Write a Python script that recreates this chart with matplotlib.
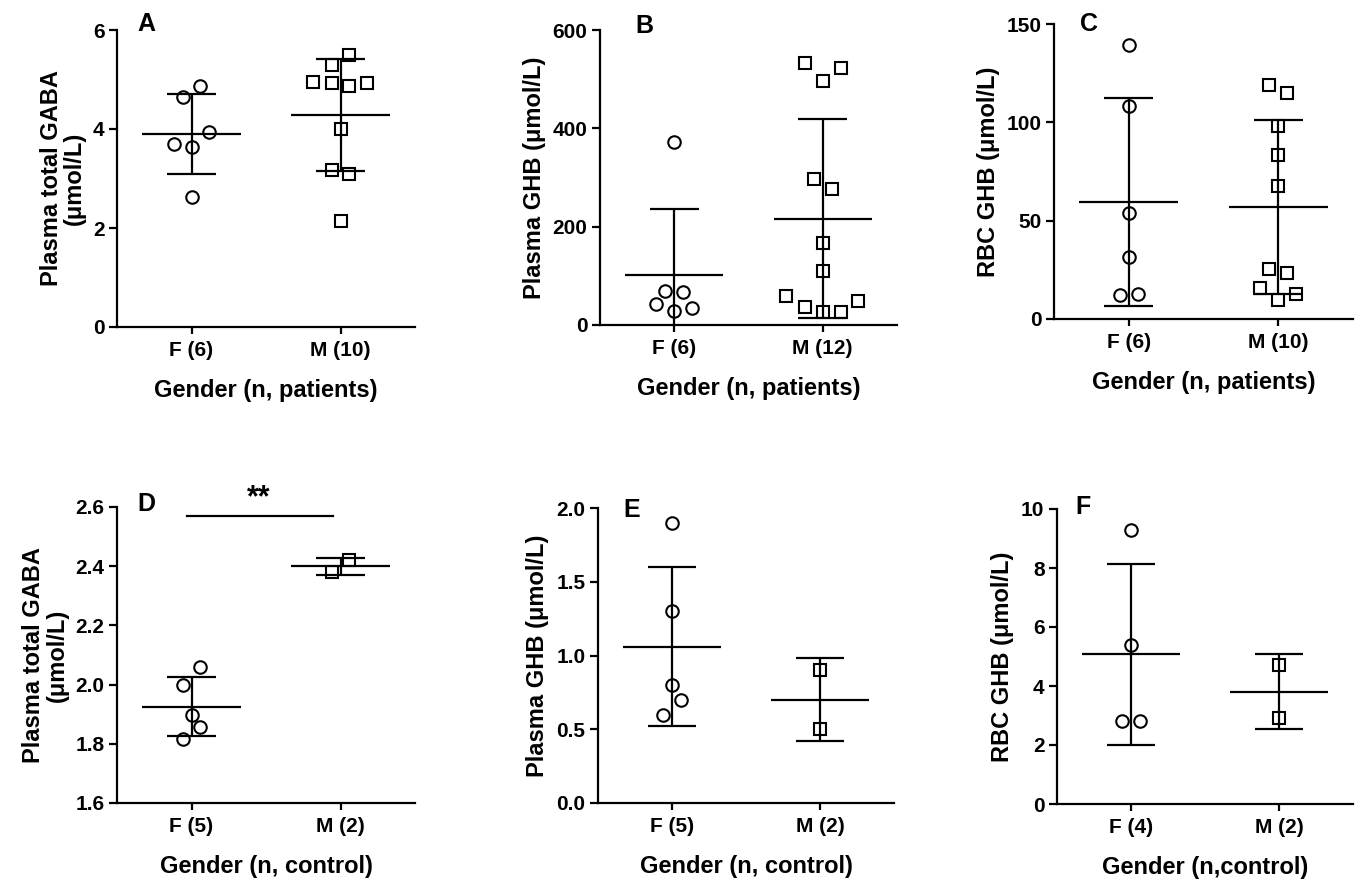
import matplotlib
matplotlib.use("Agg")
import matplotlib.pyplot as plt
import numpy as np

plt.rcParams['font.family'] = ['Liberation Sans', 'DejaVu Sans']
plt.rcParams['font.weight'] = 'bold'

# ---------------- data ----------------
groups = ["F", "M"]

A_ticks = ["F (6)", "M (10)"]
A_F = [4.87, 4.64, 3.93, 3.70, 3.63, 2.63]
A_M = [5.49, 5.29, 4.94, 4.93, 4.86, 4.93, 4.01, 3.17, 3.09, 2.14]

B_ticks = ["F (6)", "M (12)"]
B_F = [373, 69, 68, 42, 29, 35]
B_M = [532, 496, 522, 297, 276, 167, 110, 59, 37, 26, 27, 49]

C_ticks = ["F (6)", "M (10)"]
C_F = [139.1, 108.1, 54.1, 31.4, 12.2, 12.9]
C_M = [119.1, 114.9, 98.3, 83.5, 67.4, 25.3, 23.2, 15.6, 12.7, 9.7]

D_ticks = ["F (5)", "M (2)"]
D_F = [2.058, 1.997, 1.898, 1.858, 1.817]
D_M = [2.42, 2.38]

E_ticks = ["F (5)", "M (2)"]
E_F = [1.9, 1.3, 0.8, 0.7, 0.6]
E_M = [0.9, 0.5]

F_ticks = ["F (4)", "M (2)"]
F_F = [9.3, 5.4, 2.8, 2.8]
F_M = [4.7, 2.9]

# horizontal scatter offsets of the points (layout, not data)
A_F_jit = [0.06, -0.06, 0.12, -0.12, 0, 0]
A_M_jit = [0.06, -0.06, -0.186, -0.06, 0.06, 0.175, 0, -0.06, 0.06, 0]
B_F_jit = [0, -0.06, 0.06, -0.12, 0, 0.12]
B_M_jit = [-0.12, 0, 0.12, -0.06, 0.06, 0, 0, -0.245, -0.12, 0, 0.12, 0.24]
C_F_jit = [0, 0, 0, 0, -0.06, 0.06]
C_M_jit = [-0.06, 0.06, 0, 0, 0, -0.06, 0.06, -0.12, 0.12, 0]
D_F_jit = [0.06, -0.06, 0, 0.06, -0.06]
D_M_jit = [0.06, -0.06]
E_F_jit = [0, 0, 0, 0.06, -0.06]
E_M_jit = [0, 0]
F_F_jit = [0, 0, -0.06, 0.06]
F_M_jit = [0, 0]

W, H = 1360, 886
fig = plt.figure(figsize=(W / 100, H / 100), dpi=100)
fig.patch.set_facecolor('white')

def px_axes(left, top, right, bottom):
    return fig.add_axes([left / W, 1 - bottom / H, (right - left) / W, (bottom - top) / H])

panels = [
    dict(box=(117, 30, 415, 327), F=A_F, M=A_M, fj=A_F_jit, mj=A_M_jit, ticks=A_ticks,
         ylim=(0, 6), yt=[0, 2, 4, 6], fmt="{:.0f}",
         ylabel="Plasma total GABA\n(\u03bcmol/L)", xlabel="Gender (n, patients)",
         letter="A", lpos=(137, 24)),
    dict(box=(600, 30, 897, 325), F=B_F, M=B_M, fj=B_F_jit, mj=B_M_jit, ticks=B_ticks,
         ylim=(0, 600), yt=[0, 200, 400, 600], fmt="{:.0f}",
         ylabel="Plasma GHB (\u03bcmol/L)", xlabel="Gender (n, patients)",
         letter="B", lpos=(635, 26)),
    dict(box=(1054, 24, 1353, 319), F=C_F, M=C_M, fj=C_F_jit, mj=C_M_jit, ticks=C_ticks,
         ylim=(0, 150), yt=[0, 50, 100, 150], fmt="{:.0f}",
         ylabel="RBC GHB (\u03bcmol/L)", xlabel="Gender (n, patients)",
         letter="C", lpos=(1080, 24)),
    dict(box=(117, 507, 415, 803), F=D_F, M=D_M, fj=D_F_jit, mj=D_M_jit, ticks=D_ticks,
         ylim=(1.6, 2.6), yt=[1.6, 1.8, 2.0, 2.2, 2.4, 2.6], fmt="{:.1f}",
         ylabel="Plasma total GABA\n(\u03bcmol/L)", xlabel="Gender (n, control)",
         letter="D", lpos=(137, 504)),
    dict(box=(598, 508, 894, 803), F=E_F, M=E_M, fj=E_F_jit, mj=E_M_jit, ticks=E_ticks,
         ylim=(0, 2.0), yt=[0, 0.5, 1.0, 1.5, 2.0], fmt="{:.1f}",
         ylabel="Plasma GHB (\u03bcmol/L)", xlabel="Gender (n, control)",
         letter="E", lpos=(623, 510)),
    dict(box=(1057, 509, 1353, 804), F=F_F, M=F_M, fj=F_F_jit, mj=F_M_jit, ticks=F_ticks,
         ylim=(0, 10), yt=[0, 2, 4, 6, 8, 10], fmt="{:.0f}",
         ylabel="RBC GHB (\u03bcmol/L)", xlabel="Gender (n,control)",
         letter="F", lpos=(1075, 507)),
]

LW = 1.6
axes = []
for p in panels:
    ax = px_axes(*p['box'])
    axes.append(ax)
    for gi, (vals, jit, mk) in enumerate([(p['F'], p['fj'], 'o'), (p['M'], p['mj'], 's')]):
        vals = np.asarray(vals, dtype=float)
        m = vals.mean()
        sd = vals.std(ddof=1)
        # SD bar
        ax.plot([gi, gi], [m - sd, m + sd], color='black', lw=LW, solid_capstyle='butt')
        ax.plot([gi - 0.165, gi + 0.165], [m + sd, m + sd], color='black', lw=LW, solid_capstyle='butt')
        ax.plot([gi - 0.165, gi + 0.165], [m - sd, m - sd], color='black', lw=LW, solid_capstyle='butt')
        # mean line
        ax.plot([gi - 0.33, gi + 0.33], [m, m], color='black', lw=LW, solid_capstyle='butt')
        # points
        ax.plot(gi + np.asarray(jit), vals, linestyle='none', marker=mk,
                markersize=9 if mk == 'o' else 8.6, markerfacecolor='none',
                markeredgecolor='black', markeredgewidth=1.5, clip_on=False, zorder=3)
    ax.set_xlim(-0.5, 1.5)
    ax.set_ylim(*p['ylim'])
    ax.set_yticks(p['yt'])
    ax.set_yticklabels([p['fmt'].format(v) for v in p['yt']])
    ax.set_xticks([0, 1])
    ax.set_xticklabels(p['ticks'])
    for s in ['top', 'right']:
        ax.spines[s].set_visible(False)
    for s in ['left', 'bottom']:
        ax.spines[s].set_linewidth(LW)
    ax.tick_params(axis='y', direction='out', length=6, width=LW, pad=3, labelsize=15)
    ax.tick_params(axis='x', direction='out', length=5, width=LW, pad=5, labelsize=15)
    for lab in ax.get_xticklabels() + ax.get_yticklabels():
        lab.set_fontweight('bold')
    ax.set_ylabel(p['ylabel'], fontsize=17, fontweight='bold', labelpad=5, linespacing=1.0)
    ax.set_xlabel(p['xlabel'], fontsize=17, fontweight='bold', labelpad=14)
    ax.set_facecolor('none')
    fig.text(p['lpos'][0] / W, 1 - p['lpos'][1] / H, p['letter'], fontsize=18,
             fontweight='bold', ha='left', va='center')

# significance bar in panel D
axD = axes[3]
axD.plot([-0.03, 0.95], [2.57, 2.57], color='black', lw=LW, clip_on=False)
axD.text(0.45, 2.63, "**", ha='center', va='center', fontsize=22, fontweight='bold',
         clip_on=False)

fig.savefig("out.png", dpi=100, facecolor='white')
